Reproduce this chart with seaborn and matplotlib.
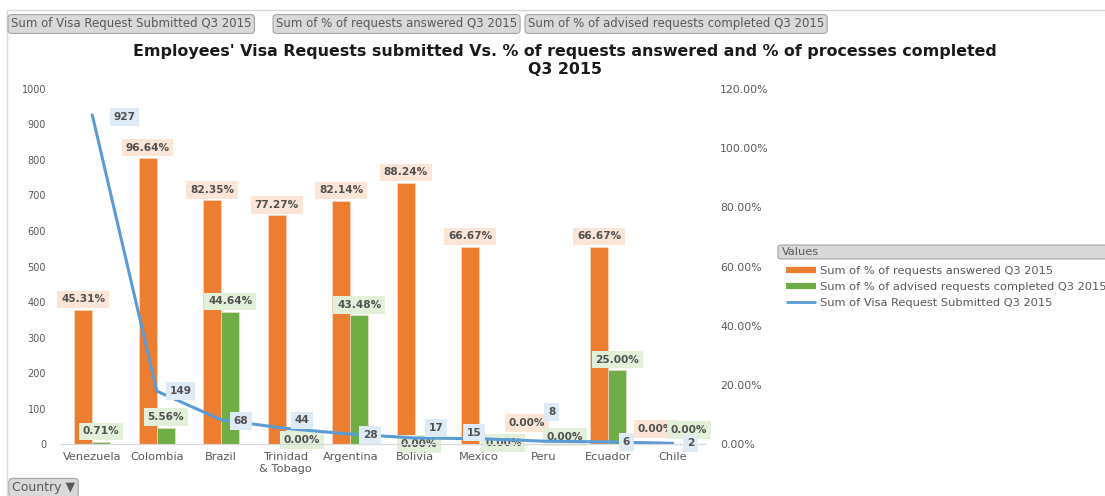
import numpy as np
import pandas as pd
import matplotlib
matplotlib.use("Agg")
import matplotlib.pyplot as plt
from matplotlib.lines import Line2D
from matplotlib.patches import Rectangle, FancyBboxPatch
import seaborn as sns

# Datos
countries = ["Venezuela", "Colombia", "Brazil", "Trinidad\n& Tobago", "Argentina",
             "Bolivia", "Mexico", "Peru", "Ecuador", "Chile"]
requests_submitted = [927, 149, 68, 44, 28, 17, 15, 8, 6, 2]
pct_answered = [0.4531, 0.9664, 0.8235, 0.7727, 0.8214, 0.8824, 0.6667, 0.0, 0.6667, 0.0]
pct_completed = [0.0071, 0.0556, 0.4464, 0.0, 0.4348, 0.0, 0.0, 0.0, 0.25, 0.0]
left_ticks = [0, 100, 200, 300, 400, 500, 600, 700, 800, 900, 1000]
right_ticks = [0.0, 0.2, 0.4, 0.6, 0.8, 1.0, 1.2]

s_answered = "Sum of % of requests answered Q3 2015"
s_completed = "Sum of % of advised requests completed Q3 2015"
s_submitted = "Sum of Visa Request Submitted Q3 2015"

ORANGE = "#ED7D31"
GREEN = "#70AD47"
BLUE = "#5B9BD5"
TXT = "#505050"
TICK = "#595959"

sns.set_style("white")
plt.rcParams["font.family"] = ["DejaVu Sans"]

df = pd.DataFrame({
    "Country": countries * 2,
    "value": pct_answered + pct_completed,
    "series": [s_answered] * len(countries) + [s_completed] * len(countries),
})

fig = plt.figure(figsize=(11.05, 4.96), dpi=100)
ax = fig.add_axes([0.0543, 0.1048, 0.5837, 0.7158])
ax2 = ax.twinx()

# Barras (eje derecho, porcentajes)
sns.barplot(data=df, x="Country", y="value", hue="series",
            palette=[ORANGE, GREEN], saturation=1, width=0.56, ax=ax2,
            legend=False, edgecolor="#FBE0CF", linewidth=0.4)

# Linea (eje izquierdo, solicitudes)
xpos = np.arange(len(countries))
sns.lineplot(x=xpos, y=requests_submitted, ax=ax, color=BLUE, linewidth=2.2,
             sort=False)

# Linea encima de las barras
ax.set_zorder(ax2.get_zorder() + 1)
ax.patch.set_visible(False)

ax.set_xlim(-0.5, len(countries) - 0.5)
ax.set_ylim(0, 1000)
ax2.set_ylim(0, 1.2)
ax.set_xticks(xpos)
ax.set_xticklabels(countries)
ax.set_yticks(left_ticks)
ax2.set_yticks(right_ticks)
ax2.set_yticklabels([f"{t*100:.2f}%" for t in right_ticks])
ax.set_xlabel("")
ax.set_ylabel("")
ax2.set_xlabel("")
ax2.set_ylabel("")

for a in (ax, ax2):
    for side in ["top", "left", "right"]:
        a.spines[side].set_visible(False)
    a.spines["bottom"].set_color("#D9D9D9")
    a.tick_params(length=0, colors=TICK, labelsize=7)
ax.tick_params(axis="y", pad=10)
ax2.tick_params(axis="y", pad=11, labelsize=7.8)
ax.tick_params(axis="x", pad=6, labelsize=8.2)

px = 0.72  # pixeles -> puntos

def label(a, text, xy, dx, dy, fc):
    a.annotate(text, xy=xy, xytext=(dx * px, dy * px), textcoords="offset points",
               ha="center", va="center", fontsize=7.6, color=TXT, fontweight="bold",
               bbox=dict(boxstyle="square,pad=0.35", fc=fc, ec="none"),
               annotation_clip=False)

# Ajustes de las etiquetas que Excel movio (en pixeles)
nudge_answered = {7: (-8, 21), 9: (-8, 15)}
nudge_completed = {3: (7, 4), 5: (-5, 0), 6: (15, 1), 7: (12, 7), 9: (7, 14)}
nudge_line = [(32, -2), (24, 0), (20, -1), (16, 8), (20, -1),
              (21, 10), (-5, 6), (8, 29), (18, 0), (18, 0)]

for cont, vals, fc, nudges in [(ax2.containers[0], pct_answered, "#FBE5D6", nudge_answered),
                               (ax2.containers[1], pct_completed, "#E2F0D9", nudge_completed)]:
    for i, (bar, v) in enumerate(zip(cont, vals)):
        cx = bar.get_x() + bar.get_width() / 2
        dx, dy = nudges.get(i, (0, 10.5))
        label(ax2, f"{v*100:.2f}%", (cx, bar.get_height()), dx, dy, fc)

for i, v in enumerate(requests_submitted):
    dx, dy = nudge_line[i]
    label(ax, str(v), (xpos[i], v), dx, dy, "#DEEBF7")

# Titulo
fig.text(0.511, 0.879,
         "Employees' Visa Requests submitted Vs. % of requests answered and % of processes completed\nQ3 2015",
         ha="center", va="center", fontsize=11.4, fontweight="bold", color="#1A1A1A",
         linespacing=1.25)

# Borde del grafico
fig.patches.append(Rectangle((7 / 1105, -0.01), 1.02, 1 - 10 / 496 + 0.01,
                             transform=fig.transFigure, fill=False,
                             ec="#D9D9D9", lw=1))

# Botones de campo (tabla dinamica)
btn = dict(boxstyle="round,pad=0.25,rounding_size=0.3", fc="#D9D9D9", ec="#A6A6A6", lw=0.8)
for xb, t in [(11, s_submitted), (276, s_answered), (528, s_completed)]:
    fig.text(xb / 1105, 1 - 24 / 496, t, ha="left", va="center", fontsize=8.5,
             color=TICK, bbox=btn)
fig.text(12 / 1105, 1 - 488 / 496, "Country \u25BC", ha="left", va="center",
         fontsize=9, color=TICK, bbox=btn)

# Leyenda: cabecera "Values" (la caja sigue fuera del borde derecho)
fig.patches.append(FancyBboxPatch((778 / 1105, 1 - 259 / 496), 340 / 1105, 14 / 496,
                                  boxstyle="round,pad=0,rounding_size=0.004",
                                  transform=fig.transFigure, fc="#D9D9D9",
                                  ec="#A6A6A6", lw=0.8))
fig.text(782 / 1105, 1 - 252 / 496, "Values", ha="left", va="center",
         fontsize=8.2, color=TICK)
handles = [Line2D([], [], color=ORANGE, lw=4.5, solid_capstyle="butt"),
           Line2D([], [], color=GREEN, lw=4.5, solid_capstyle="butt"),
           Line2D([], [], color=BLUE, lw=2, solid_capstyle="butt")]
fig.legend(handles, [s_answered, s_completed, s_submitted], loc="upper left",
           bbox_to_anchor=(776 / 1105, 1 - 256 / 496), frameon=False,
           fontsize=8.2, labelcolor=TICK, handlelength=2.6, handletextpad=0.4,
           labelspacing=0.5)

fig.savefig("out.png", dpi=100)
